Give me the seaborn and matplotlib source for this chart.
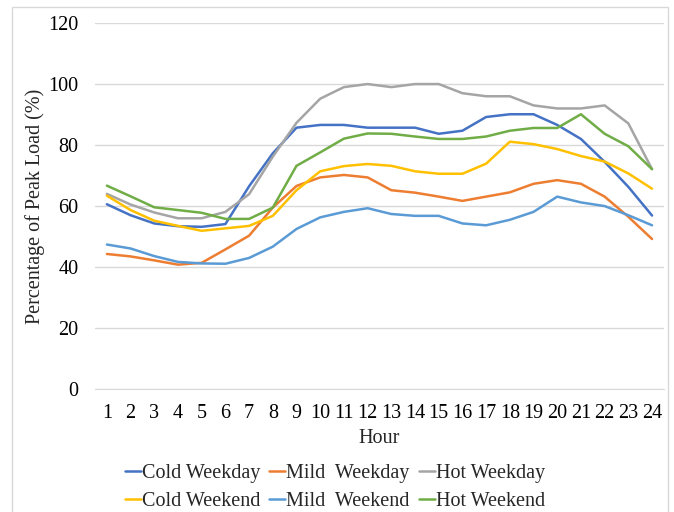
import matplotlib
matplotlib.use("Agg")
import matplotlib.pyplot as plt
import seaborn as sns
import pandas as pd
from matplotlib.lines import Line2D
from matplotlib.patches import Rectangle

hours = list(range(1, 25))

cold_weekday = [60.6, 57, 54.3, 53.4, 53.2, 54.1, 66.5, 77.3, 85.7, 86.6, 86.6, 85.7,
                85.7, 85.7, 83.7, 84.7, 89.2, 90.1, 90.1, 86.6, 82, 74.5, 66.3, 56.9]
mild_weekday = [44.3, 43.5, 42.2, 40.8, 41.4, 45.8, 50.3, 59.5, 66.6, 69.4, 70.2, 69.4,
                65.2, 64.4, 63.1, 61.7, 63.1, 64.5, 67.3, 68.5, 67.3, 63.1, 56.5, 49.2]
hot_weekday = [64, 60.5, 57.9, 56, 56, 58.1, 63.9, 76.2, 87.3, 95.2, 99, 100,
               99, 100, 100, 97, 96, 96, 93, 92, 92, 93, 87.1, 72.1]
cold_weekend = [63.4, 58.7, 55.2, 53.5, 51.9, 52.7, 53.5, 56.8, 65.2, 71.4, 73.1, 73.8,
                73.2, 71.4, 70.6, 70.6, 73.9, 81.1, 80.3, 78.7, 76.4, 74.6, 70.7, 65.7]
mild_weekend = [47.4, 46.1, 43.6, 41.7, 41.2, 41.1, 43, 46.7, 52.5, 56.3, 58.1, 59.3,
                57.4, 56.8, 56.8, 54.3, 53.7, 55.5, 58.1, 63.1, 61.2, 60, 57, 53.7]
hot_weekend = [66.7, 63.2, 59.6, 58.7, 57.8, 55.8, 55.8, 59.5, 73.2, 77.6, 82.1, 83.8,
               83.7, 82.8, 82, 82, 82.8, 84.7, 85.6, 85.6, 90.1, 83.7, 79.6, 72.1]

series_names = ["Cold Weekday", "Mild  Weekday", "Hot Weekday",
                "Cold Weekend", "Mild  Weekend", "Hot Weekend"]
series_values = [cold_weekday, mild_weekday, hot_weekday,
                 cold_weekend, mild_weekend, hot_weekend]
colors = ["#4472C4", "#ED7D31", "#A5A5A5", "#FFC000", "#5B9BD5", "#70AD47"]

rows = []
for name, vals in zip(series_names, series_values):
    for h, v in zip(hours, vals):
        rows.append({"Hour": h, "Load": v, "Series": name})
df = pd.DataFrame(rows)

sns.set_style("white")
plt.rcParams["font.family"] = ["Liberation Serif", "DejaVu Serif"]

fig = plt.figure(figsize=(6.74, 5.12), dpi=100)
ax = fig.add_axes([0.141, 0.240, 0.844, 0.715])

sns.lineplot(data=df, x="Hour", y="Load", hue="Series", hue_order=series_names,
             palette=colors, linewidth=1.8, legend=False, ax=ax)

ax.set_xlim(0.5, 24.5)
ax.set_ylim(0, 120)
ax.set_xticks(hours)
ax.set_yticks(range(0, 121, 20))
ax.tick_params(axis="both", labelsize=14.5, length=0, colors="#000000")
ax.tick_params(axis="x", pad=11)
ax.tick_params(axis="y", pad=12)
ax.grid(axis="y", color="#D9D9D9", linewidth=1)
ax.set_axisbelow(True)
for s in ["left", "right", "top"]:
    ax.spines[s].set_visible(False)
ax.spines["bottom"].set_color("#D9D9D9")
ax.set_xlabel("Hour", fontsize=14.5)
ax.set_ylabel("Percentage of Peak Load (%)", fontsize=14.5)
ax.xaxis.set_label_coords(0.5, -0.108)
ax.yaxis.set_label_coords(-0.088, 0.5)

# legend, two rows of three
order = [0, 3, 1, 4, 2, 5]
handles = [Line2D([0], [0], color=colors[i], linewidth=1.8) for i in order]
labels = [series_names[i] for i in order]
fig.legend(handles, labels, ncol=3, loc="lower center", bbox_to_anchor=(0.497, -0.033),
           frameon=False, fontsize=14.5, handlelength=0.8, handletextpad=0.05,
           columnspacing=0.45, labelspacing=0.45)

fig.patches.append(Rectangle((12 / 674, -0.02), 656 / 674, 1.02 - 7 / 512,
                             transform=fig.transFigure, fill=False,
                             edgecolor="#D9D9D9", linewidth=1))

fig.savefig("out.png", dpi=100)
